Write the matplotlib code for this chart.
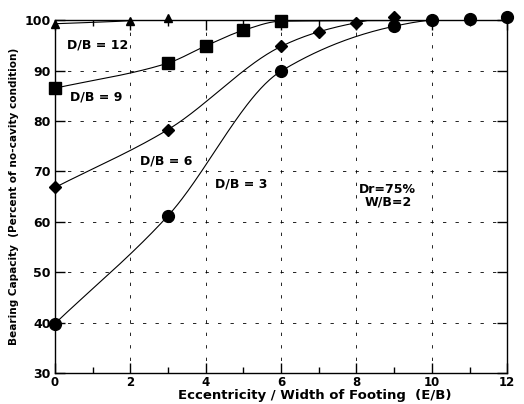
import numpy as np
import matplotlib
matplotlib.use('Agg')
import matplotlib.pyplot as plt
from matplotlib.ticker import MultipleLocator

plt.rcParams['font.family'] = 'DejaVu Sans'
plt.rcParams['font.weight'] = 'bold'

# data
x_db3 = [0, 3, 6, 9, 10, 11, 12]
y_db3 = [39.8, 61.2, 89.9, 98.8, 100.0, 100.3, 100.6]

x_db6 = [0, 3, 6, 7, 8, 9, 12]
y_db6 = [66.8, 78.3, 94.8, 97.7, 99.5, 100.7, 100.1]
mk_db6 = 6  # visible markers (last point hidden on top edge)

x_db9 = [0, 3, 4, 5, 6, 12]
y_db9 = [86.5, 91.5, 94.9, 98.0, 99.8, 100.0]
mk_db9 = 5

x_db12 = [0, 2, 3, 12]
y_db12 = [99.3, 99.9, 100.5, 100.0]
mk_db12 = 3


def smooth(x, y, n=300):
    # monotone cubic (pchip) through the points, only for drawing the curve
    x = np.asarray(x, float)
    y = np.asarray(y, float)
    h = np.diff(x)
    d = np.diff(y) / h
    m = np.zeros_like(y)
    for k in range(1, len(x) - 1):
        if d[k - 1] * d[k] > 0:
            w1 = 2 * h[k] + h[k - 1]
            w2 = h[k] + 2 * h[k - 1]
            m[k] = (w1 + w2) / (w1 / d[k - 1] + w2 / d[k])
    m[0] = d[0]
    m[-1] = d[-1]
    xs = np.linspace(x[0], x[-1], n)
    idx = np.clip(np.searchsorted(x, xs) - 1, 0, len(x) - 2)
    t = (xs - x[idx]) / h[idx]
    h00 = 2 * t**3 - 3 * t**2 + 1
    h10 = t**3 - 2 * t**2 + t
    h01 = -2 * t**3 + 3 * t**2
    h11 = t**3 - t**2
    ys = h00 * y[idx] + h10 * h[idx] * m[idx] + h01 * y[idx + 1] + h11 * h[idx] * m[idx + 1]
    return xs, ys


fig = plt.figure(figsize=(5.24, 4.04), dpi=100)
ax = fig.add_axes([0.105, 0.077, 0.863, 0.873])

series = [
    (x_db3, y_db3, 'o', 8.5, len(x_db3)),
    (x_db6, y_db6, 'D', 6, mk_db6),
    (x_db9, y_db9, 's', 8.5, mk_db9),
    (x_db12, y_db12, '^', 6, mk_db12),
]
for xs, ys, mk, ms, nmk in series:
    sx, sy = smooth(xs, ys)
    ax.plot(sx, sy, color='black', lw=0.8)  # clipped: runs along the top edge
    ax.plot(xs[:nmk], ys[:nmk], linestyle='none', marker=mk, ms=ms,
            color='black', clip_on=False, zorder=5)

ax.set_xlim(0, 12)
ax.set_ylim(30, 100)
ax.xaxis.set_major_locator(MultipleLocator(2))
ax.xaxis.set_minor_locator(MultipleLocator(1))
ax.yaxis.set_major_locator(MultipleLocator(10))
ax.tick_params(which='both', direction='in', top=True, right=True, width=1.0)
ax.tick_params(which='major', length=7, labelsize=9, pad=3)
ax.tick_params(axis='x', which='major', labelsize=8.5, pad=2)
ax.tick_params(which='minor', length=4)
for lab in ax.get_xticklabels() + ax.get_yticklabels():
    lab.set_fontweight('bold')
for s in ax.spines.values():
    s.set_linewidth(1.0)

ax.grid(True, which='major', color='black', lw=0.6, linestyle=(0, (4, 11)))

ax.set_xlabel('Eccentricity / Width of Footing  (E/B)', fontsize=9.5,
              fontweight='bold', va='top')
ax.xaxis.set_label_coords(0.575, -0.045)
ax.set_ylabel('Bearing Capacity  (Percent of no-cavity condition)', fontsize=7.6,
              fontweight='bold', labelpad=4)

ax.text(0.32, 95.0, 'D/B = 12', fontsize=9, fontweight='bold', va='center')
ax.text(0.4, 84.7, 'D/B = 9', fontsize=9, fontweight='bold', va='center')
ax.text(2.25, 72.0, 'D/B = 6', fontsize=9, fontweight='bold', va='center')
ax.text(4.24, 67.5, 'D/B = 3', fontsize=9, fontweight='bold', va='center')
ax.text(8.83, 65.2, 'Dr=75%\nW/B=2', fontsize=9, fontweight='bold',
        va='center', ha='center', linespacing=1.0)

plt.savefig('out.png', dpi=100)
